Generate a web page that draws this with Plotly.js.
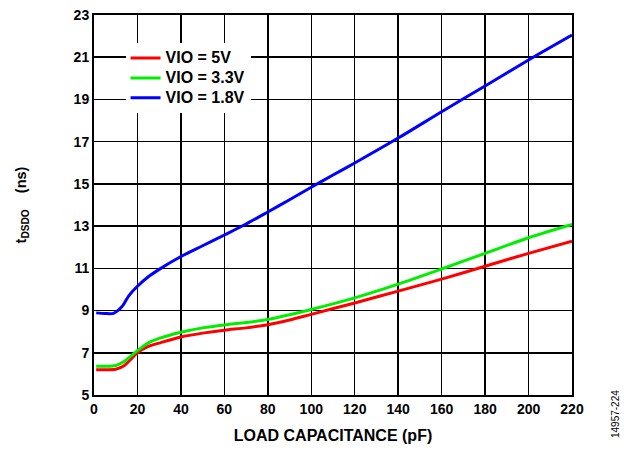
<!DOCTYPE html>
<html>
<head>
<meta charset="utf-8">
<script src="https://cdn.plot.ly/plotly-3.0.1.min.js"></script>
<style>
  html, body { margin: 0; padding: 0; background: #fff; }
  #chart { width: 624px; height: 450px; }
</style>
</head>
<body>
<div id="chart"></div>
<script>
// Load capacitance (pF) and propagation delay tDSDO (ns) for each VIO supply
const capVio5 = [1, 5, 10, 14, 17, 20, 25, 30, 40, 50, 60, 70, 80, 90, 100, 120, 140, 160, 180, 200, 220];
const tdsdoVio5 = [6.2, 6.2, 6.22, 6.4, 6.7, 7.0, 7.3, 7.46, 7.75, 7.93, 8.07, 8.18, 8.33, 8.55, 8.82, 9.36, 9.92, 10.49, 11.1, 11.71, 12.29];

const capVio33 = [1, 5, 10, 14, 17, 20, 25, 30, 40, 50, 60, 70, 80, 90, 100, 120, 140, 160, 180, 200, 220];
const tdsdoVio33 = [6.36, 6.36, 6.4, 6.6, 6.85, 7.1, 7.47, 7.68, 7.97, 8.18, 8.32, 8.43, 8.58, 8.8, 9.05, 9.6, 10.25, 10.97, 11.71, 12.45, 13.08];

const capVio18 = [1, 5, 9, 13, 16, 20, 25, 30, 40, 50, 60, 70, 80, 90, 100, 110, 120, 140, 160, 180, 200, 220];
const tdsdoVio18 = [8.89, 8.86, 8.87, 9.2, 9.7, 10.15, 10.6, 10.95, 11.56, 12.07, 12.58, 13.1, 13.67, 14.25, 14.84, 15.42, 15.99, 17.17, 18.42, 19.64, 20.87, 22.05];

const seriesNames = ['VIO = 5V', 'VIO = 3.3V', 'VIO = 1.8V'];
const seriesColors = ['#ff0000', '#00ee00', '#0000ff'];

const xTicks = [0, 20, 40, 60, 80, 100, 120, 140, 160, 180, 200, 220];
const yTicks = [5, 7, 9, 11, 13, 15, 17, 19, 21, 23];

const fontFamily = 'Liberation Sans, Arial, sans-serif';

const xs = [capVio5, capVio33, capVio18];
const ys = [tdsdoVio5, tdsdoVio33, tdsdoVio18];

// legend rows keep a compact pitch; the entry text itself is set larger
const traces = seriesNames.map((name, i) => ({
  x: xs[i],
  y: ys[i],
  name: '<span style="font-size:16px">' + name + '</span>',
  type: 'scatter',
  mode: 'lines',
  line: { color: seriesColors[i], width: 3, shape: 'spline', smoothing: 0.8 },
  hoverinfo: 'skip'
}));

const layout = {
  width: 624,
  height: 450,
  margin: { l: 93.5, r: 52, t: 15, b: 54.5, pad: 0 },
  paper_bgcolor: '#ffffff',
  plot_bgcolor: '#ffffff',
  font: { family: fontFamily, size: 14, color: '#000', weight: 'bold' },
  showlegend: true,
  legend: {
    x: 0.066, y: 0.926, xanchor: 'left', yanchor: 'top',
    bgcolor: '#ffffff', borderwidth: 0,
    font: { family: fontFamily, size: 13, color: '#000', weight: 'bold' },
    tracegroupgap: 0
  },
  xaxis: {
    range: [0, 220],
    tickvals: xTicks,
    ticktext: xTicks.map(String),
    ticks: '',
    showgrid: true, gridcolor: '#000', gridwidth: 1.5,
    zeroline: false,
    showline: true, linecolor: '#000', linewidth: 2, mirror: true,
    tickfont: { family: fontFamily, size: 14, color: '#000', weight: 'bold' },
    title: { text: 'LOAD CAPACITANCE (pF)', standoff: 14,
             font: { family: fontFamily, size: 16, color: '#000', weight: 'bold' } }
  },
  yaxis: {
    range: [5, 23],
    tickvals: yTicks,
    ticktext: yTicks.map(String),
    ticks: '',
    showgrid: true, gridcolor: '#000', gridwidth: 1.5,
    zeroline: false,
    showline: true, linecolor: '#000', linewidth: 2, mirror: true,
    tickfont: { family: fontFamily, size: 14, color: '#000', weight: 'bold' },
    title: { text: 't<sub>DSDO</sub>&nbsp;&nbsp;&nbsp;&nbsp;(ns)', standoff: 44,
             font: { family: fontFamily, size: 14.5, color: '#000', weight: 'bold' } }
  },
  annotations: [{
    text: '14957-224',
    xref: 'paper', yref: 'paper',
    x: 1.09, y: -0.05, xanchor: 'center', yanchor: 'middle',
    textangle: -90, showarrow: false,
    font: { family: fontFamily, size: 10, color: '#000', weight: 'normal' }
  }]
};

Plotly.newPlot('chart', traces, layout, { displayModeBar: false, staticPlot: true });
</script>
</body>
</html>
